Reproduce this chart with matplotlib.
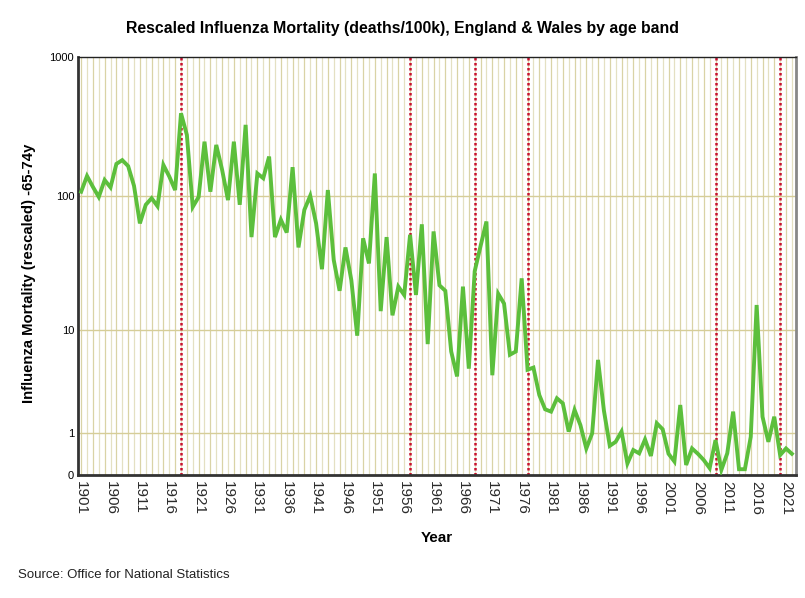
import numpy as np
import matplotlib
matplotlib.use("Agg")
import matplotlib.pyplot as plt
from matplotlib import font_manager

years = list(range(1901, 2023))
mortality = [
    107, 139, 116, 98, 130, 115, 170, 181, 164, 118,
    63, 86, 96, 84, 167, 138, 110, 394, 275, 83,
    98, 246, 107, 233, 154, 93, 246, 86, 325, 50,
    145, 134, 192, 50, 67, 54, 161, 42, 79, 100,
    63, 29, 110, 34, 20, 42, 24, 9, 49, 32,
    145, 14, 50, 13, 21.5, 18.6, 52, 18.6, 62, 7.7,
    55, 22, 20, 6.7, 4.1, 21.5, 4.8, 28, 43, 65,
    4.2, 19, 16, 6.3, 6.7, 24.8, 4.7, 4.9, 2.75, 1.96,
    1.85, 2.55, 2.27, 1.05, 1.93, 1.28, 0.55, 0.99, 5.7, 1.9,
    0.62, 0.73, 1.05, 0.21, 0.51, 0.43, 0.80, 0.37, 1.35, 1.13,
    0.42, 0.25, 2.18, 0.18, 0.55, 0.42, 0.28, 0.12, 0.78, 0.09,
    0.43, 1.85, 0.10, 0.10, 0.88, 15.6, 1.62, 0.73, 1.62, 0.39,
    0.55, 0.42,
]
event_years = [1918, 1957, 1968, 1977, 2009, 2020]
x_tick_years = list(range(1901, 2022, 5))
y_ticks = [0, 1, 10, 100, 1000]

names = {f.name for f in font_manager.fontManager.ttflist}
base = "Liberation Sans" if "Liberation Sans" in names else "DejaVu Sans"
narrow = "Liberation Sans Narrow" if "Liberation Sans Narrow" in names else base
plt.rcParams["font.family"] = [base, "DejaVu Sans"]

fig = plt.figure(figsize=(8.05, 5.98), dpi=100)
ax = fig.add_axes([0.0973, 0.2057, 0.8915, 0.699])

def fwd(v):
    v = np.asarray(v, dtype=float)
    return np.log10(np.maximum(v, 0) + 1)

def inv(v):
    v = np.asarray(v, dtype=float)
    return 10 ** v - 1

ax.set_yscale("function", functions=(fwd, inv))
ax.set_ylim(0, 1000)
ax.set_xlim(1900.52, 2022.7)

for i, yr in enumerate(years):
    ax.axvline(yr, color="#d9d3a6" if i % 2 == 0 else "#e4e0c2", lw=0.9, zorder=1)
for yv in [1, 10, 100]:
    ax.axhline(yv, color="#d6cd98", lw=1.0, zorder=1)

for ev in event_years:
    ax.axvline(ev, color="#c8102e", lw=1.8, ls=(0, (1, 1)), zorder=2)

ax.plot(years, mortality, color="#5cbf3c", lw=2.8, zorder=3, solid_joinstyle="miter")

ax.set_yticks(y_ticks)
ax.set_yticklabels([str(v) for v in y_ticks], fontsize=8)
ax.yaxis.set_minor_locator(matplotlib.ticker.NullLocator())
ax.set_xticks(x_tick_years)
ax.set_xticklabels([str(v) for v in x_tick_years], rotation=270, fontsize=11,
                   color="#2a2a2a")
ax.tick_params(axis="both", length=0, pad=3)
ax.tick_params(axis="x", pad=4)

for side in ["left", "bottom"]:
    ax.spines[side].set_color("#333333")
    ax.spines[side].set_linewidth(2)
ax.spines["top"].set_color("#222222")
ax.spines["top"].set_linewidth(1)
ax.spines["right"].set_color("#888888")
ax.spines["right"].set_linewidth(2)

fig.text(0.5, 0.953, "Rescaled Influenza Mortality (deaths/100k), England & Wales by age band",
         ha="center", va="center", fontsize=11.4, fontweight="bold")
ax.set_xlabel("Year", fontsize=11, fontweight="bold", labelpad=12)
fig.text(0.036, 0.543, "Influenza Mortality (rescaled) -65-74y", rotation=90,
         ha="center", va="center", fontsize=10.7, fontweight="bold",
         family=[narrow, "DejaVu Sans"])
fig.text(0.022, 0.038, "Source: Office for National Statistics", ha="left",
         va="center", fontsize=9.5, color="#222222")

fig.savefig("out.png", dpi=100, facecolor="white")
